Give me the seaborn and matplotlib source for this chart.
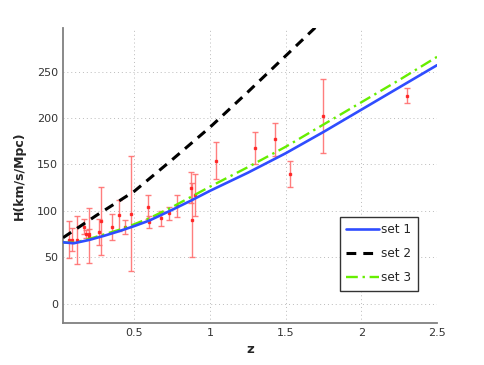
import numpy as np
import pandas as pd
import matplotlib
matplotlib.use("Agg")
import matplotlib.pyplot as plt
import seaborn as sns

# ------------------ DATA ------------------

# observational H(z) points: redshift, H, 1-sigma error
z_obs = [0.07, 0.09, 0.12, 0.17, 0.179, 0.199, 0.2, 0.27, 0.28, 0.352,
         0.4, 0.44, 0.48, 0.593, 0.6, 0.68, 0.73, 0.781, 0.875, 0.88,
         0.9, 1.037, 1.3, 1.43, 1.53, 1.75, 2.3]
h_obs = [69, 69, 68.6, 83, 75, 75, 72.9, 77, 88.8, 83,
         95, 82.6, 97, 104, 87.9, 92, 97.3, 105, 125, 90,
         117, 154, 168, 177, 140, 202, 224]
h_err = [19.6, 12, 26.2, 8, 4, 5, 29.6, 14, 36.6, 14,
         17, 7.8, 62, 13, 6.1, 8, 7, 12, 17, 40,
         23, 20, 17, 18, 14, 40, 8]

# model curves
z_set1 = [0.03, 0.1, 0.2, 0.3, 0.4, 0.5, 0.6, 0.75, 0.875, 1.0, 1.25, 1.5,
          1.75, 2.0, 2.25, 2.5]
h_set1 = [66, 65, 68.5, 73, 78, 83.5, 89.5, 101, 111, 121.5, 141, 162,
          185, 209, 233, 257]

z_set2 = [0.03, 0.25, 0.5, 0.75, 1.0, 1.25, 1.5, 1.75]
h_set2 = [71, 95, 121, 155, 190, 228, 267, 306]

z_set3 = [0.03, 0.1, 0.2, 0.3, 0.4, 0.5, 0.6, 0.75, 0.875, 1.0, 1.25, 1.5,
          1.75, 2.0, 2.25, 2.5]
h_set3 = [66, 65.5, 69.5, 74.5, 79.5, 85.5, 92, 104, 115, 126, 147, 169,
          193, 217, 241, 266]

x_ticks = [0.5, 1, 1.5, 2, 2.5]
y_ticks = [0, 50, 100, 150, 200, 250]

# ------------------ PLOT ------------------

sns.set_style("white")
plt.rcParams["font.family"] = ["DejaVu Sans"]

fig = plt.figure(figsize=(4.85, 3.65), dpi=100)
ax = fig.add_axes([0.130, 0.115, 0.771, 0.808])

ax.errorbar(z_obs, h_obs, yerr=h_err, fmt="s", color="#ff2222", ms=1.5,
            ecolor="#ff7070", elinewidth=1.0, capsize=2.3, capthick=1.0,
            alpha=0.9, zorder=2)

sns.lineplot(x=z_set1, y=h_set1, ax=ax, color="#2f4dff", lw=1.9,
             label="set 1", zorder=4)
sns.lineplot(x=z_set2, y=h_set2, ax=ax, color="black", lw=2.2,
             label="set 2", zorder=4)
sns.lineplot(x=z_set3, y=h_set3, ax=ax, color="#66ee00", lw=1.7,
             label="set 3", zorder=3)
ax.lines[-2].set_dashes([3.2, 2.3])
ax.lines[-1].set_dashes([5, 2, 1, 2])

ax.set_xlim(0.03, 2.5)
ax.set_ylim(-21, 297)
ax.set_xticks(x_ticks)
ax.set_xticklabels(["0.5", "1", "1.5", "2", "2.5"])
ax.set_yticks(y_ticks)
ax.tick_params(direction="in", length=3, labelsize=8, colors="#333333",
               width=0.8)
ax.grid(True, ls=(0, (1, 3)), color="#bbbbbb", lw=0.7)

for side in ["top", "right"]:
    ax.spines[side].set_visible(False)
for side in ["left", "bottom"]:
    ax.spines[side].set_color("#808080")
    ax.spines[side].set_linewidth(1.3)

ax.set_xlabel("z", fontsize=9.5, fontweight="bold", labelpad=4)
ax.set_ylabel("H(km/s/Mpc)", fontsize=9, fontweight="bold", labelpad=8)

handles, labels = ax.get_legend_handles_labels()
leg = ax.legend(handles, labels, loc="lower left", bbox_to_anchor=(0.74, 0.11),
                fontsize=8.7, frameon=True, fancybox=False, handlelength=2.7,
                handletextpad=0.15, borderpad=0.55, labelspacing=0.9,
                borderaxespad=0, framealpha=1)
leg.get_frame().set_edgecolor("#333333")
leg.get_frame().set_linewidth(1.0)

fig.savefig("out.png", dpi=100)
plt.close(fig)
